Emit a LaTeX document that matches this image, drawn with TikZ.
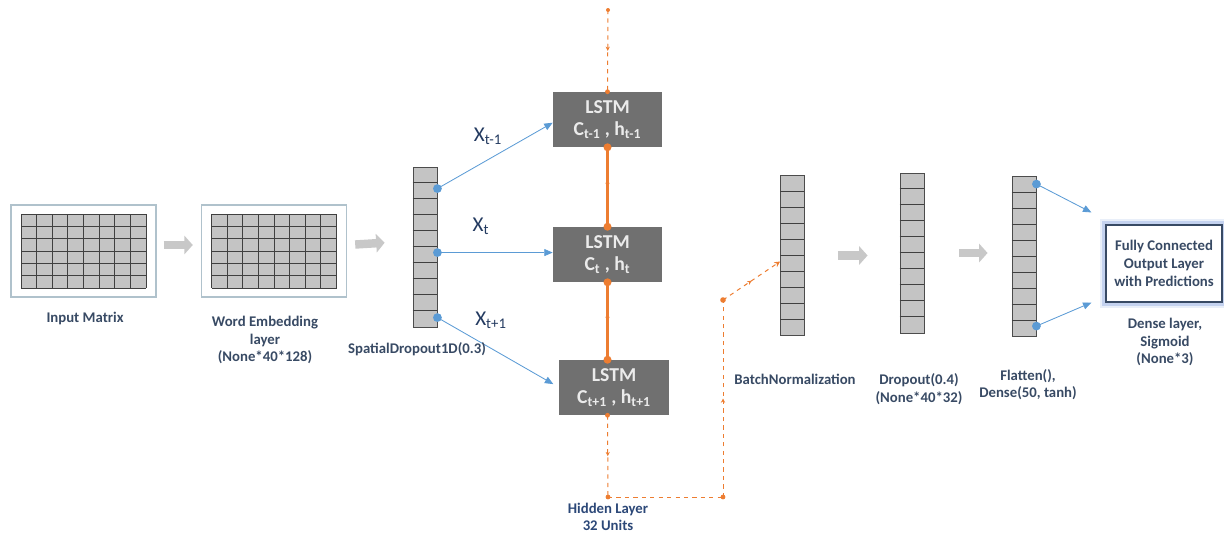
\documentclass[tikz,border=0pt]{standalone}
\usepackage{fontspec}
\setmainfont{Carlito}
\usetikzlibrary{arrows.meta,positioning,calc,decorations.markings}
\definecolor{lstmgray}{RGB}{112,112,112}
\definecolor{cellgray}{RGB}{196,196,196}
\definecolor{framegray}{RGB}{176,194,204}
\definecolor{flowblue}{RGB}{91,155,213}
\definecolor{hiddenorange}{RGB}{237,125,49}
\definecolor{labelnavy}{RGB}{56,74,100}
\definecolor{hiddennavy}{RGB}{44,72,120}
\definecolor{shaftgray}{RGB}{200,200,200}
\definecolor{glowblue}{RGB}{110,145,215}

\tikzset{
  frame/.style={draw=framegray, line width=1pt, fill=white, minimum width=3.625cm, minimum height=2.3cm, inner sep=0pt},
  column/.style={draw=black!70, fill=cellgray, line width=0.6pt, minimum width=0.6cm, minimum height=4cm, inner sep=0pt},
  celline/.style={draw=black!75, line width=0.6pt},
  lstmbox/.style={fill=lstmgray, text=white!92!black, minimum width=2.725cm, minimum height=1.375cm, align=center, font=\fontsize{14}{16}\selectfont\bfseries, inner sep=0pt},
  layertext/.style={text=labelnavy, align=center, font=\fontsize{10.5}{12.5}\selectfont\bfseries},
  xtext/.style={text=hiddennavy!80!black, font=\fontsize{15}{17}\selectfont},
  bigarrow/.style={draw=shaftgray, line width=6pt, -{Triangle[length=6pt,width=13pt]}},
  flowarrow/.style={draw=flowblue, line width=0.6pt, -{Triangle[length=6pt,width=5pt]}},
  hiddenlink/.style={draw=hiddenorange, line width=1.6pt},
  hiddendash/.style={draw=hiddenorange, line width=0.7pt, dashed},
  midtip/.style={postaction={decorate, decoration={markings, mark=at position 0.5 with {\arrow[hiddenorange]{Stealth[length=3pt,width=3pt]}}}}}
}

\begin{document}
\begin{tikzpicture}[x=0.025cm, y=-0.025cm]
    \useasboundingbox (0,0) rectangle (1224,534);

    % input and embedding matrices
    \node[frame] (inmat) at (83.5,251) {};
    \node[frame] (embmat) at (274,251) {};
    \foreach \m in {inmat,embmat}{
        \fill[cellgray] ($(\m.center)+(-62.5,-37)$) rectangle ($(\m.center)+(62.5,37)$);
        \foreach \i in {0,...,8}
            \draw[celline] ($(\m.center)+(-62.5+\i*15.625,-37)$) -- ++(0,74);
        \foreach \j in {0,...,6}
            \draw[celline] ($(\m.center)+(-62.5,-37+\j*12.333)$) -- ++(125,0);
    }

    % layer columns
    \node[column] (spdrop) at (425,247) {};
    \node[column] (bnorm) at (792.5,255.5) {};
    \node[column] (drop) at (912,253) {};
    \node[column] (flat) at (1024,256.5) {};
    \foreach \c in {spdrop,bnorm,drop,flat}
        \foreach \k in {1,...,9}
            \draw[celline] ($(\c.north west)+(0,\k*16)$) -- ++(24,0);

    % LSTM cells
    \node[lstmbox] (lstm1) at (607.5,119.5) {LSTM\\C\textsubscript{t-1} , h\textsubscript{t-1}};
    \node[lstmbox] (lstm2) at (607.5,254.5) {LSTM\\C\textsubscript{t} , h\textsubscript{t}};
    \node[lstmbox] (lstm3) at (614,387.5) {LSTM\\C\textsubscript{t+1} , h\textsubscript{t+1}};

    % output layer
    \node[draw=labelnavy, line width=0.8pt, fill=white, minimum width=2.9cm, minimum height=1.925cm, align=center,
          text=labelnavy, font=\fontsize{10.5}{13}\selectfont\bfseries,
          preaction={draw=glowblue, line width=9pt, opacity=0.15},
          preaction={draw=glowblue, line width=5pt, opacity=0.3}] (outbox) at (1164,263.5)
          {Fully Connected\\Output Layer\\with Predictions};

    % grey flow arrows
    \draw[bigarrow, shorten <=0.175cm, shorten >=0.2cm] ([yshift=0.15cm]inmat.east) -- ([yshift=0.15cm]embmat.west);
    \draw[bigarrow, shorten <=0.2cm, shorten >=0.7cm] ([yshift=0.15cm]embmat.east) -- ([yshift=0.15cm]spdrop.west);
    \draw[bigarrow, shorten <=0.825cm, shorten >=0.8cm] (bnorm.east) -- (bnorm.east -| drop.west);
    \draw[bigarrow, shorten <=0.875cm, shorten >=0.6cm] (drop.east) -- (drop.east -| flat.west);

    % inputs X into the LSTM cells
    \coordinate (d1) at ($(spdrop.north east)+(0,22)$);
    \coordinate (d2) at ($(spdrop.north east)+(0,86)$);
    \coordinate (d3) at ($(spdrop.north east)+(0,151)$);
    \draw[flowarrow] (d1) -- ([yshift=-0.08cm]lstm1.west);
    \draw[flowarrow] (d2) -- (d2 -| lstm2.west);
    \draw[flowarrow, shorten >=0.17cm] (d3) -- (lstm3.west);
    \foreach \d in {d1,d2,d3}
        \fill[flowblue] (\d) circle (0.11cm);
    \node[xtext] (xprev) at (488,136) {X\textsubscript{t-1}};
    \node[xtext] (xnow) at (481,226) {X\textsubscript{t}};
    \node[xtext] (xnext) at (491,320) {X\textsubscript{t+1}};

    % dense outputs
    \coordinate (o1) at ($(flat.north east)+(0,8)$);
    \coordinate (o2) at ($(flat.north east)+(0,150)$);
    \coordinate (t1) at ($(outbox.north west)+(-14,-12)$);
    \coordinate (t2) at ($(outbox.south west)+(-14,0)$);
    \draw[flowarrow] (o1) -- (t1);
    \draw[flowarrow] (o2) -- (t2);
    \fill[flowblue] (o1) circle (0.11cm) (o2) circle (0.11cm);

    % hidden state chain
    \coordinate (htop) at (608,10);
    \coordinate (hbottom) at (608,497);
    \coordinate (hturn) at (723,497);
    \coordinate (hup) at (723,300);
    \draw[hiddenlink, midtip] (lstm1.south) -- (lstm2.north);
    \draw[hiddenlink, midtip] (lstm2.south) -- (lstm2.south |- lstm3.north);
    \draw[hiddendash, midtip] (htop) -- (lstm1.north);
    \draw[hiddendash, midtip] (lstm3.south -| lstm2.south) -- (hbottom);
    \draw[hiddendash] (hbottom) -- (hturn);
    \draw[hiddendash, midtip] (hturn) -- (hup);
    \draw[hiddendash, midtip, -{Stealth[length=4pt,width=4pt]}] (hup) -- ([yshift=-0.15cm]bnorm.west);
    \fill[hiddenorange] (lstm1.south) circle (0.1cm) (lstm2.north) circle (0.1cm)
        (lstm2.south) circle (0.1cm) (lstm2.south |- lstm3.north) circle (0.1cm);
    \fill[hiddenorange] (htop) circle (0.05cm) (lstm1.north) circle (0.06cm) (lstm3.south -| lstm2.south) circle (0.06cm)
        (hbottom) circle (0.06cm) (hturn) circle (0.06cm) (hup) circle (0.07cm);

    % captions
    \node[layertext] (inlbl) at (85,318) {Input Matrix};
    \node[layertext] (emblbl) at (265,340) {Word Embedding\\layer\\(None*40*128)};
    \node[layertext] (splbl) at (417,349) {SpatialDropout1D(0.3)};
    \node[layertext, text=hiddennavy] (hidlbl) at (608,517) {Hidden Layer\\32 Units};
    \node[layertext] (bnlbl) at (795,379) {BatchNormalization};
    \node[layertext] (droplbl) at (919,389) {Dropout(0.4)\\(None*40*32)};
    \node[layertext] (flatlbl) at (1028,384.5) {Flatten(),\\Dense(50, tanh)};
    \node[layertext] (outlbl) at (1165,342) {Dense layer,\\Sigmoid\\(None*3)};
\end{tikzpicture}
\end{document}
